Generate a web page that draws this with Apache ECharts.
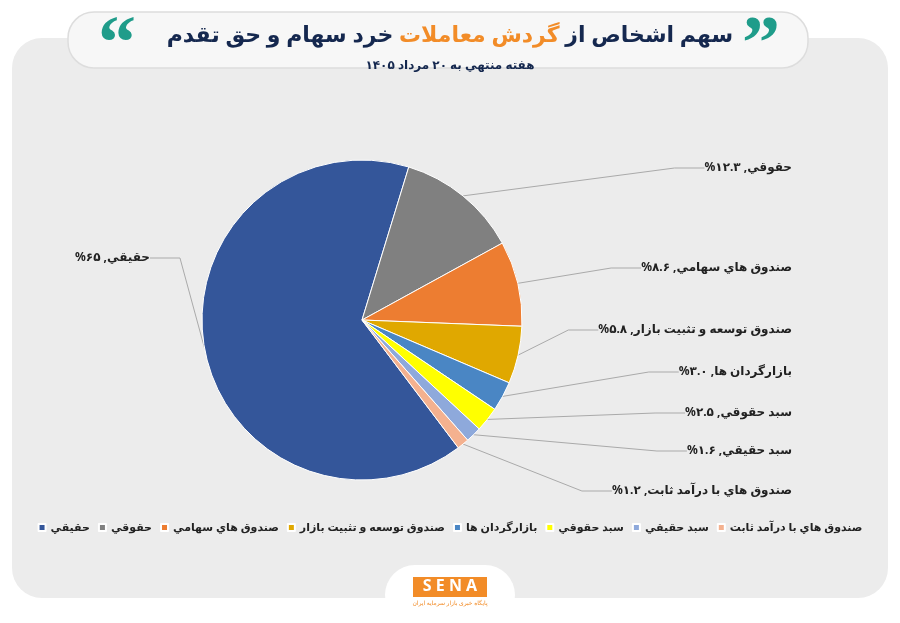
<!DOCTYPE html>
<html><head><meta charset="utf-8">
<script src="https://cdn.jsdelivr.net/npm/echarts@6/dist/echarts.min.js"></script>
<style>html,body{margin:0;padding:0;background:#fff}#c{width:900px;height:623px}</style>
</head><body><div id="c"></div>
<script>
var names = ['حقيقي', 'حقوقي', 'صندوق هاي سهامي', 'صندوق توسعه و تثبيت بازار', 'بازارگردان ها', 'سبد حقوقي', 'سبد حقيقي', 'صندوق هاي با درآمد ثابت'];
var values = [65, 12.3, 8.6, 5.8, 3.0, 2.5, 1.6, 1.2];
var valueText = ['۶۵', '۱۲.۳', '۸.۶', '۵.۸', '۳.۰', '۲.۵', '۱.۶', '۱.۲'];
var colors = ['#34569a', '#808080', '#ed7d31', '#e0a800', '#4a86c4', '#ffff00', '#8ea9db', '#f4b18f'];
// label rows (px) as in the reference
var labelY = [258, 168, 268, 330, 372, 413, 451, 491];

var chart = echarts.init(document.getElementById('c'));
var font = '"Noto Sans", "DejaVu Sans", sans-serif';
var RLM = '\u200F';
chart.setOption({
  color: colors,
  graphic: [
    {type: 'rect', shape: {x: 12, y: 38, width: 876, height: 560, r: 30}, style: {fill: '#ececec'}, z: -10},
    {type: 'rect', shape: {x: 68, y: 12, width: 740, height: 56, r: 26}, style: {fill: '#f7f7f7', stroke: '#dddddd', lineWidth: 1.5}, z: -5},
    {type: 'text', left: 98, top: 10, style: {text: '\u201C', font: 'bold 76px serif', fill: '#1f9c8a'}},
    {type: 'text', left: 742, top: 10, style: {text: '\u201D', font: 'bold 76px serif', fill: '#1f9c8a'}},
    {type: 'rect', shape: {x: 385, y: 565, width: 130, height: 60, r: 30}, style: {fill: '#ffffff'}, z: -5},
    {type: 'rect', shape: {x: 413, y: 577, width: 74, height: 20}, style: {fill: '#f28c28'}},
    {type: 'text', left: 'center', top: 578, style: {text: 'S E N A', font: 'bold 16px ' + font, fill: '#ffffff'}},
    {type: 'text', left: 'center', top: 600, style: {text: 'پایگاه خبری بازار سرمایه ایران', font: '6px ' + font, fill: '#f28c28'}}
  ],
  title: [{
    text: '{a|خرد سهام و حق تقدم }{b|گردش معاملات}{a| سهم اشخاص از}',
    left: 'center', top: 20,
    textStyle: {rich: {a: {fontSize: 22, fontWeight: 'bold', color: '#15284f', fontFamily: font}, b: {fontSize: 22, fontWeight: 'bold', color: '#f28c28', fontFamily: font}}}
  }, {
    text: 'هفته منتهي به ۲۰ مرداد ۱۴۰۵', left: 'center', top: 55,
    textStyle: {fontSize: 12, fontWeight: 'bold', color: '#15284f', fontFamily: font}
  }],
  legend: {
    top: 517, left: 'center', itemWidth: 7, itemHeight: 7, itemGap: 8, icon: 'rect',
    data: names,
    textStyle: {fontSize: 11, fontWeight: 'bold', color: '#222', fontFamily: font}
  },
  series: [{
    type: 'pie', center: [362, 320], radius: 160, startAngle: 307,
    itemStyle: {borderColor: '#fff', borderWidth: 1},
    data: names.map(function (n, i) {
      var d = {name: n, value: values[i]};
      if (i === 0) d.label = {edgeDistance: 75};
      return d;
    }),
    label: {
      formatter: function (p) { return RLM + p.name + ', ' + valueText[p.dataIndex] + '%' + RLM; },
      fontSize: 12, fontWeight: 'bold', color: '#222', fontFamily: font,
      alignTo: 'edge', edgeDistance: 108, overflow: 'none'
    },
    labelLine: {length: 20, length2: 30, lineStyle: {color: '#aaa', width: 1}},
    labelLayout: function (p) { return {y: labelY[p.dataIndex]}; }
  }]
});
</script></body></html>
